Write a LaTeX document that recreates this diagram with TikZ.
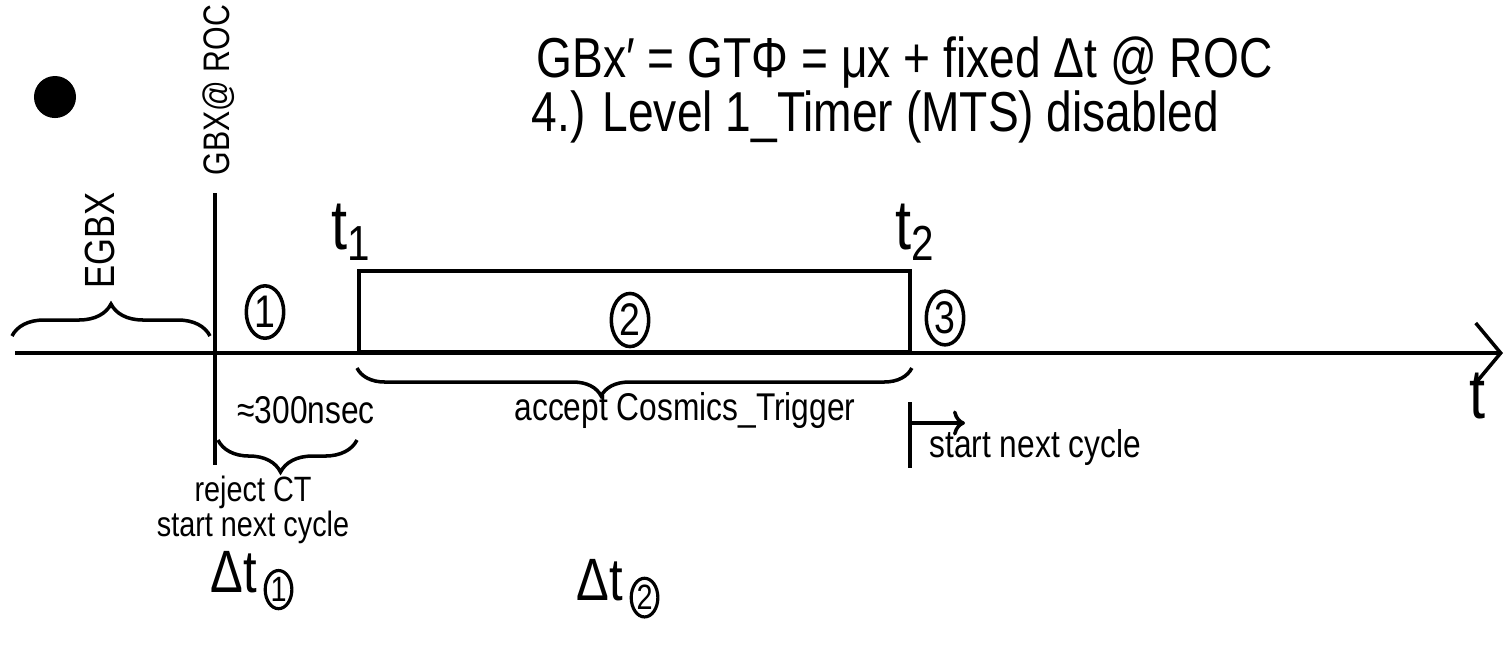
\documentclass[tikz,border=0pt]{standalone}
\usepackage{fontspec}
\setmainfont{Liberation Sans}[FakeStretch=0.82]
\usetikzlibrary{arrows.meta,decorations.pathreplacing,shapes.geometric}

\begin{document}
\begin{tikzpicture}[x=0.01cm,y=-0.01cm,
    line width=1pt,
    stage/.style={ellipse,draw,line width=1pt,inner sep=0.8pt,font=\fontsize{13}{13}\selectfont},
    substage/.style={ellipse,draw,line width=0.9pt,inner sep=0.4pt,font=\fontsize{10}{10}\selectfont},
    brc/.style={decorate,decoration={brace,amplitude=#1}},
    note/.style={font=\fontsize{11}{13}\selectfont},
    big/.style={font=\fontsize{20}{22}\selectfont}]
  \useasboundingbox (0,0) rectangle (1505,647);
  % header
  \node[circle,fill,minimum size=0.42cm,inner sep=0pt] (dot) at (55,97) {};
  \node[anchor=west,inner sep=0pt,font=\fontsize{16}{17}\selectfont] (eq) at (535,62)
    {GBx′ = GTΦ = μx + fixed Δt @ ROC};
  \node[anchor=west,inner sep=0pt,font=\fontsize{16}{17}\selectfont] (lvl) at (530,117)
    {4.) Level 1\_Timer (MTS) disabled};
  % time axis
  \coordinate (ax0) at (15,353);
  \coordinate (ax1) at (1503,353);
  \draw[-{Straight Barb[length=2.5mm,width=6mm]}] (ax0) -- (ax1);
  \node[big] (t) at (1478,396) {t};
  % GBX marker
  \coordinate (g0) at (215,193);
  \coordinate (g1) at (215,465);
  \draw (g0) -- (g1);
  \node[rotate=90,font=\fontsize{10.5}{11}\selectfont] (gbx) at (219,90) {GBX@ ROC};
  \node[rotate=90,font=\fontsize{12}{12}\selectfont] (egbx) at (100,240) {EGBX};
  \coordinate (e0) at (12,336);
  \coordinate (e1) at (210,336);
  \draw[brc=0.32cm] (e0) -- (e1);
  % accept window
  \node[draw,anchor=south west,inner sep=0pt,minimum width=5.51cm,
        minimum height=0.8cm] (win) at (357,353) {};
  \node[big] (t1) at (352,232) {t\textsubscript{1}};
  \node[big] (t2) at (916,232) {t\textsubscript{2}};
  \node[stage] (s1) at (265,312) {1};
  \node[stage] (s2) at (630,320) {2};
  \node[stage] (s3) at (945,318) {3};
  \draw[brc=0.28cm,decoration={aspect=0.56}] ([yshift=-0.15cm]win.south east)
    -- ([yshift=-0.15cm]win.south west);
  \node[note] (acc) at (685,410) {accept Cosmics\_Trigger};
  % reject
  \node[note,anchor=west] (rej) at (224,410) {≈300nsec};
  \coordinate (r0) at (357,440);
  \coordinate (r1) at (218,440);
  \draw[brc=0.32cm,decoration={aspect=0.55}] (r0) -- (r1);
  \node[align=center,font=\fontsize{10}{10}\selectfont] (rejtxt) at (253,510)
    {reject CT\\start next cycle};
  % next cycle
  \coordinate (n0) at (910,402);
  \coordinate (n1) at (910,468);
  \coordinate (nm) at (910,423);
  \coordinate (na) at (965,423);
  \draw (n0) -- (n1);
  \draw[-{To[length=1.2mm]}] (nm) -- (na);
  \node[note,anchor=west] (next) at (916,447) {start next cycle};
  % intervals
  \node[font=\fontsize{17}{19}\selectfont] (dt1) at (234,572) {Δt};
  \node[substage,anchor=west] (dt1n) at ([xshift=-2pt,yshift=-5pt]dt1.east) {1};
  \node[font=\fontsize{17}{19}\selectfont] (dt2) at (600,580) {Δt};
  \node[substage,anchor=west] (dt2n) at ([xshift=-2pt,yshift=-5pt]dt2.east) {2};
\end{tikzpicture}
\end{document}
